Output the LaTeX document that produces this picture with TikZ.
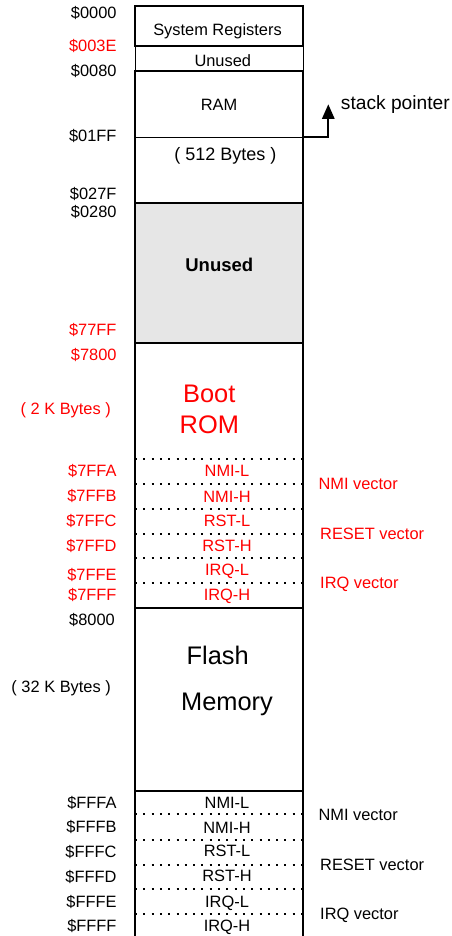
\documentclass[tikz,border=0pt]{standalone}
\usepackage{fontspec}
\setmainfont{Liberation Sans}
\usetikzlibrary{arrows.meta}

\definecolor{unusedgray}{HTML}{E6E6E6}

\tikzset{
  addr/.style={anchor=east, inner sep=0pt, text height=11.7pt, text depth=0pt},
  cell/.style={inner sep=0pt, text height=11.7pt, text depth=0pt},
  vec/.style={anchor=west, inner sep=0pt, text height=11.7pt, text depth=0pt},
  big/.style={inner sep=0pt, font=\fontsize{25.4}{30}\selectfont, text height=18.2pt, text depth=0pt},
  frame/.style={line width=1.8pt},
  thinframe/.style={line width=0.8pt},
  dotline/.style={line width=1.8pt, dash pattern=on 2pt off 6.3pt},
}

\begin{document}
\begin{tikzpicture}[x=1pt, y=-1pt, font=\fontsize{16.4}{19.7}\selectfont] % y runs downward, 1pt per pixel

        \useasboundingbox (0,0) rectangle (451,936);

        % Unused gap, shaded
        \fill[unusedgray] (135,203) rectangle (303,343);

        % Memory column
        \draw[frame] (135,6) rectangle (303,46);
        \draw[thinframe] (135,46) -- (135,71) (303,46) -- (303,71);
        \draw[frame] (135,936) -- (135,71) -- (303,71) -- (303,936);
        \foreach \y in {203,343,608,791}
          \draw[frame] (135,\y) -- (303,\y);
        \draw[line width=1pt] (135,137.5) -- (303,137.5);

        % Vector bytes
        \foreach \y in {459,484,509,534,558,583,814,840,865,889,914}
          \draw[dotline] (135,\y) -- (303,\y);

        % Addresses
        \foreach \n/\y/\t in {a0000/12.8/\$0000, a0080/70.8/\$0080, a01FF/135.8/\$01FF,
                               a027F/193.8/\$027F, a0280/211.5/\$0280,
                               aFFFA/802.5/\$FFFA, aFFFB/826.8/\$FFFB, aFFFC/851.5/\$FFFC,
                               aFFFD/876.5/\$FFFD, aFFFE/901.8/\$FFFE, aFFFF/925.8/\$FFFF}
          \node[addr] (\n) at (116.7,\y) {\t};
        \node[addr] (a8000) at (115,619.3) {\$8000};

        \foreach \n/\y/\t in {a003E/45.2/\$003E, a77FF/329.5/\$77FF, a7800/355/\$7800,
                               a7FFA/470.8/\$7FFA, a7FFB/495.8/\$7FFB, a7FFC/520.5/\$7FFC,
                               a7FFD/545.2/\$7FFD, a7FFE/574.2/\$7FFE, a7FFF/594.2/\$7FFF}
          \node[addr, red] (\n) at (116.7,\y) {\t};

        % Sizes
        \node[addr, red] (bootsize) at (111,408.5) {( 2 K Bytes )};
        \node[addr] (flashsize) at (111,686.7) {( 32 K Bytes )};

        % Regions
        \node[cell] (sysreg) at (217.5,29.8) {System Registers};
        \node[cell] (unusedlow) at (222.8,60.3) {Unused};
        \node[cell] (ram) at (219,104.5) {RAM};
        \node[cell, font=\fontsize{18}{21.6}\selectfont, text height=12.9pt] (ramsize) at (225.3,153.7) {( 512 Bytes )};
        \node[cell, font=\fontsize{18.5}{22}\selectfont\bfseries, text height=13.2pt] (unusedgap) at (219.3,264.7) {Unused};
        \node[big, red] (boot) at (209.3,393.2) {Boot};
        \node[big, red] (rom) at (209.3,424) {ROM};
        \node[big] (flash) at (217.7,655) {Flash};
        \node[big] (memory) at (227,701.3) {Memory};

        % Vector cells
        \foreach \n/\y/\t in {nmilboot/471/NMI-L, nmihboot/496.7/NMI-H, rstlboot/521/RST-L,
                               rsthboot/545.3/RST-H, irqlboot/570/IRQ-L, irqhboot/594.3/IRQ-H}
          \node[cell, red] (\n) at (227,\y) {\t};
        \foreach \n/\y/\t in {nmilflash/802.7/NMI-L, nmihflash/827.7/NMI-H, rstlflash/851/RST-L,
                               rsthflash/876/RST-H, irqlflash/901.7/IRQ-L, irqhflash/925.7/IRQ-H}
          \node[cell] (\n) at (227,\y) {\t};

        \node[vec, red] (nmiboot) at (318.3,483.8) {NMI vector};
        \node[vec, red] (rstboot) at (320,533.3) {RESET vector};
        \node[vec, red] (irqboot) at (320,582.5) {IRQ vector};
        \node[vec] (nmiflash) at (318.3,814.7) {NMI vector};
        \node[vec] (rstflash) at (320,864.5) {RESET vector};
        \node[vec] (irqflash) at (320,913.5) {IRQ vector};

        % Stack pointer
        \node[anchor=base west, inner sep=0pt, font=\fontsize{19.2}{23}\selectfont] (stack) at (340.7,110) {stack pointer};
        \coordinate (spbase) at (303,137.3);
        \coordinate (sptip) at (328.3,104.3);
        \draw[line width=1.7pt, -{Triangle[width=12.3pt, length=14.5pt]}] (spbase) -| (sptip);

    \end{tikzpicture}
\end{document}
